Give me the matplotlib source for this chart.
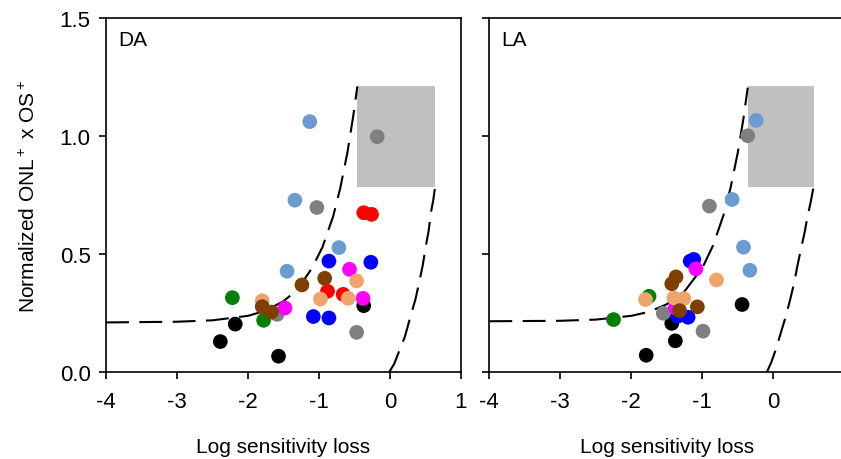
#!/usr/bin/env python3
"""ONL x OS thickness against log sensitivity loss, DA and LA panels."""

import matplotlib

matplotlib.use("Agg")
import matplotlib.pyplot as plt
from matplotlib.patches import Rectangle


COLORS = {
    "black": "#000000",
    "gray": "#808080",
    "lightblue": "#6b9bd1",
    "green": "#008000",
    "red": "#ff0000",
    "blue": "#0000ff",
    "magenta": "#ff00ff",
    "tan": "#eea46a",
    "brown": "#7f3f00",
}
DRAW_ORDER = ["black", "gray", "lightblue", "green", "red", "blue", "magenta", "tan", "brown"]

# DA panel points
DA_X = [-0.37, -2.18, -2.39, -1.57,
        -1.03, -1.59, -0.47, -0.18,
        -1.34, -0.72, -1.45, -1.13,
        -2.22, -1.78,
        -0.37, -0.26, -0.88, -0.66,
        -0.86, -0.27, -1.08, -0.86,
        -0.57, -0.38, -1.48,
        -0.47, -0.98, -0.59, -1.80,
        -0.92, -1.24, -1.80, -1.67]
DA_Y = [0.281, 0.203, 0.129, 0.067,
        0.697, 0.244, 0.168, 0.997,
        0.728, 0.527, 0.427, 1.061,
        0.315, 0.219,
        0.675, 0.668, 0.342, 0.329,
        0.470, 0.465, 0.235, 0.229,
        0.435, 0.312, 0.271,
        0.386, 0.309, 0.312, 0.302,
        0.397, 0.369, 0.277, 0.254]
DA_GROUP = (["black"] * 4 + ["gray"] * 4 + ["lightblue"] * 4 + ["green"] * 2
            + ["red"] * 4 + ["blue"] * 4 + ["magenta"] * 3 + ["tan"] * 4
            + ["brown"] * 4)

# LA panel points
LA_X = [-0.44, -1.43, -1.38, -1.79,
        -0.90, -1.55, -0.99, -0.36,
        -0.58, -0.42, -0.33, -0.24,
        -1.75, -2.25,
        -1.17, -1.12, -1.35, -1.20,
        -1.09, -1.38,
        -0.80, -1.80, -1.40, -1.26,
        -1.37, -1.43, -1.07, -1.32]
LA_Y = [0.286, 0.206, 0.132, 0.071,
        0.703, 0.249, 0.173, 1.001,
        0.731, 0.529, 0.431, 1.066,
        0.321, 0.222,
        0.470, 0.477, 0.236, 0.232,
        0.437, 0.272,
        0.390, 0.307, 0.314, 0.311,
        0.403, 0.374, 0.276, 0.260]
LA_GROUP = (["black"] * 4 + ["gray"] * 4 + ["lightblue"] * 4 + ["green"] * 2
            + ["blue"] * 4 + ["magenta"] * 2 + ["tan"] * 4 + ["brown"] * 4)

# dashed model bounds
DA_LOW_X = [-4.0, -3.0, -2.5, -2.0, -1.75, -1.5, -1.3, -1.1, -0.95, -0.8, -0.7, -0.6, -0.52, -0.46]
DA_LOW_Y = [0.21, 0.213, 0.219, 0.238, 0.26, 0.30, 0.35, 0.44, 0.53, 0.66, 0.78, 0.93, 1.08, 1.21]
DA_HIGH_X = [-0.01, 0.06, 0.13, 0.21, 0.29, 0.36, 0.41, 0.46, 0.505, 0.545, 0.576, 0.61, 0.637]
DA_HIGH_Y = [0.0, 0.035, 0.089, 0.15, 0.237, 0.31, 0.379, 0.45, 0.534, 0.6, 0.675, 0.73, 0.788]
LA_LOW_X = [-4.0, -3.0, -2.5, -2.0, -1.75, -1.5, -1.25, -1.0, -0.85, -0.7, -0.6, -0.5, -0.42, -0.36]
LA_LOW_Y = [0.215, 0.217, 0.222, 0.238, 0.255, 0.287, 0.342, 0.441, 0.535, 0.666, 0.783, 0.93, 1.075, 1.205]
LA_HIGH_X = [-0.09, -0.03, 0.035, 0.1, 0.176, 0.24, 0.294, 0.34, 0.388, 0.44, 0.483, 0.53, 0.568]
LA_HIGH_Y = [0.0, 0.04, 0.095, 0.16, 0.236, 0.31, 0.378, 0.45, 0.519, 0.59, 0.66, 0.725, 0.787]

# shaded target zone (x0, x1, y0, y1)
DA_BOX = (-0.47, 0.64, 0.785, 1.21)
LA_BOX = (-0.36, 0.575, 0.785, 1.21)

X_TICKS = [-4, -3, -2, -1, 0, 1]
Y_TICKS = [0.0, 0.5, 1.0, 1.5]


def draw_panel(ax, name, xs, ys, groups, low, high, box):
    x0, x1, y0, y1 = box
    ax.add_patch(Rectangle((x0, y0), x1 - x0, y1 - y0, facecolor="#c0c0c0",
                           edgecolor="none", zorder=1))
    dash = (0, (11, 5))
    ax.plot(low[0], low[1], color="black", lw=1.5, linestyle=dash, zorder=2)
    ax.plot(high[0], high[1], color="black", lw=1.5, linestyle=dash, zorder=2)
    for group in DRAW_ORDER:
        px = [x for x, g in zip(xs, groups) if g == group]
        py = [y for y, g in zip(ys, groups) if g == group]
        if px:
            ax.scatter(px, py, s=112, color=COLORS[group], edgecolors="none", zorder=3)
    ax.text(0.035, 0.94, name, transform=ax.transAxes, fontsize=15,
            ha="left", va="center")
    ax.set_xlim(-4, 1)
    ax.set_ylim(0, 1.5)
    ax.set_xticks(X_TICKS, [f"{t:d}" for t in X_TICKS])
    ax.set_yticks(Y_TICKS, [f"{t:.1f}" for t in Y_TICKS])
    ax.tick_params(direction="out", length=5, width=1.2, labelsize=16)
    ax.tick_params(axis="x", pad=9)
    ax.tick_params(axis="y", pad=6)
    for spine in ax.spines.values():
        spine.set_linewidth(1.2)
    ax.set_xlabel("Log sensitivity loss", fontsize=15, labelpad=18)


def main():
    plt.rcParams.update(
        {
            "font.family": "Liberation Sans",
            "mathtext.fontset": "custom",
            "mathtext.rm": "Liberation Sans",
            "mathtext.it": "Liberation Sans:italic",
        }
    )
    fig = plt.figure(figsize=(8.41, 4.60), dpi=100)
    left = fig.add_axes([106 / 841, 87 / 460, 355 / 841, 354 / 460])
    right = fig.add_axes([489.3 / 841, 87 / 460, 355 / 841, 354 / 460])

    draw_panel(left, "DA", DA_X, DA_Y, DA_GROUP,
               (DA_LOW_X, DA_LOW_Y), (DA_HIGH_X, DA_HIGH_Y), DA_BOX)
    draw_panel(right, "LA", LA_X, LA_Y, LA_GROUP,
               (LA_LOW_X, LA_LOW_Y), (LA_HIGH_X, LA_HIGH_Y), LA_BOX)
    right.tick_params(labelleft=False)
    # the "1" of the right panel falls past the figure edge
    right.set_xticks(X_TICKS, [f"{t:d}" for t in X_TICKS[:-1]] + [""])

    left.set_ylabel(r"Normalized ONL$^+$ x OS$^+$", fontsize=15)
    left.yaxis.set_label_coords(-0.19, 0.5)

    fig.savefig("out.png", dpi=100)
    plt.close(fig)


if __name__ == "__main__":
    main()
